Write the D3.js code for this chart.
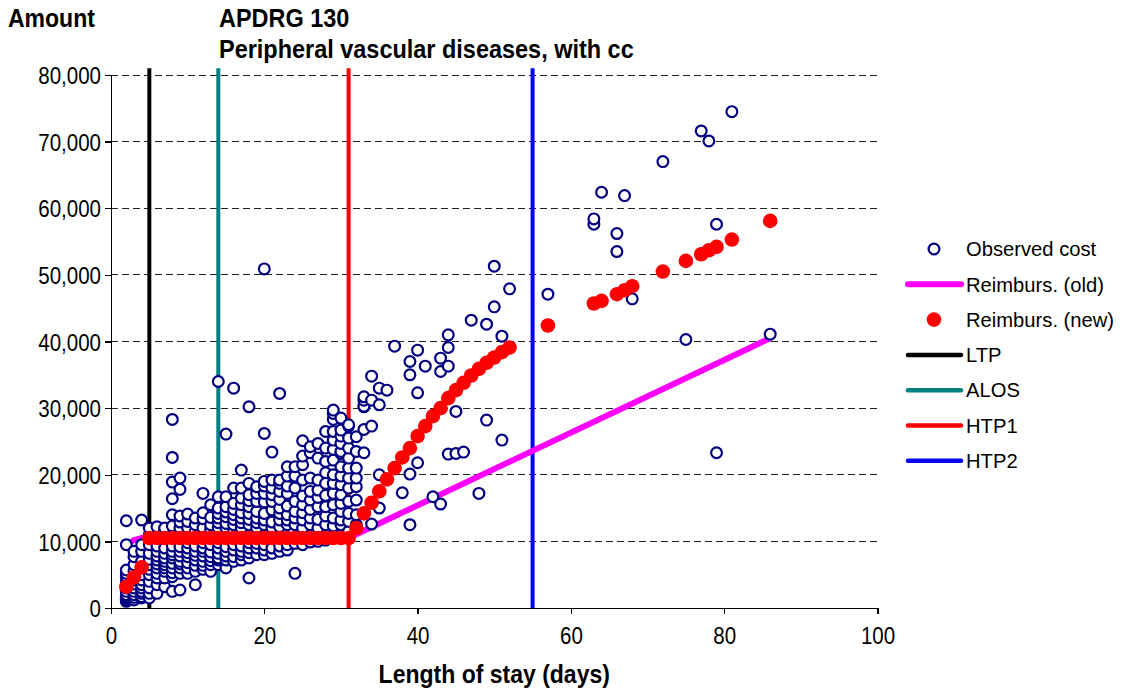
<!DOCTYPE html>
<html>
<head>
<meta charset="utf-8">
<script src="https://cdnjs.cloudflare.com/ajax/libs/d3/7.8.5/d3.min.js"></script>
<style>
  html, body { margin: 0; padding: 0; background: #fff; }
  svg { display: block; font-family: Arial, "Liberation Sans", sans-serif; }
</style>
</head>
<body>
<svg id="chart" width="1126" height="693"></svg>
<script>
// ---------- data ----------
const titleLines = ["APDRG 130", "Peripheral vascular diseases, with cc"];
const yAxisTitle = "Amount";
const xAxisTitle = "Length of stay (days)";
const xTicks = [0, 20, 40, 60, 80, 100];
const yTicks = [0, 10000, 20000, 30000, 40000, 50000, 60000, 70000, 80000];

// Observed cost: length of stay and the costs observed for that length of stay
const obsLOS = [2,3,4,5,6,7,8,9,10,11,12,13,14,15,16,17,18,19,20,21,22,23,24,25,26,27,28,29,30,31,32,33,34,35,36,37,38,39,40,41,42,43,44,45,46,47,48,49,50,51,52,57,63,64,66,67,68,72,75,77,78,79,81,86];
const obsCost = [
  [1000,1200,1500,1700,2000,2500,3000,3500,4000,4700,5200,5700,9500,13100],
  [1200,1600,2000,2500,3000,3600,4200,4800,5500,6500,7700,8500],
  [1500,1700,2200,2500,3000,3500,4200,5000,6000,7000,8500,9500,13200],
  [1500,2200,3000,4000,5000,5800,6500,7300,8200,9500,11000,12000],
  [2200,3500,4500,5200,6000,6600,7200,7800,8500,9300,12200],
  [3200,4500,5500,6000,6500,7000,7500,8200,9000,11500,12000],
  [2500,4700,5300,6000,6700,7500,8000,8500,9300,12300,14000,16400,18900,22600,28300],
  [2700,5200,6000,6600,7000,7800,8500,9200,12000,12900,13800,17800,19500],
  [5200,6000,6800,7700,8300,9000,9800,12000,13000,14100],
  [3500,5500,6400,7200,7900,8500,9300,11500,12500,13500],
  [5800,6400,7000,7800,8500,9000,9800,12000,13400,14300,17200],
  [5500,6500,7100,7700,8400,9500,11800,12500,13600,15500],
  [6500,7200,7500,8200,9000,9800,12000,12800,13500,14200,15000,16700,34000],
  [6000,7200,7800,8500,9200,12000,12700,13700,14400,15200,16700,26100],
  [7000,7700,8700,9500,11500,12500,13300,14000,14800,15700,18000,33000],
  [7200,8000,8500,9300,12000,12800,13500,14300,15500,16500,18000,20700],
  [4500,7500,8300,9000,9800,12500,13300,14200,15200,16100,17000,18700,30200],
  [8000,9000,9700,12000,12800,13500,14500,16000,17200,18200],
  [8000,8700,9500,12500,13200,14200,15900,17200,18300,19000,26200,50900],
  [8200,9000,12000,12900,14700,16000,17000,18000,19200,23400],
  [8500,9300,12200,13200,14200,15000,16300,17500,18700,19200,32200],
  [8700,9500,12500,13200,14000,15300,17200,18300,19800,21200],
  [5200,9700,12500,13500,14500,16000,18000,19800,21200],
  [9500,12000,13200,14300,15500,16800,19200,21500,22800,25100],
  [9900,12500,13500,14800,16200,17500,19500,23300,24200],
  [10000,12000,13300,15200,16600,17700,19200,22500,24700],
  [10200,12500,13800,15200,16900,18700,20300,22000,24000,26500],
  [11000,12300,13500,15500,17200,18700,20000,22200,23800,25200,26500,28300,29200,29700],
  [11000,12500,13200,14500,15700,17000,18500,19800,21200,23200,23500,24700,25800,26700,28500],
  [11500,13000,14200,16000,18000,19500,21000,22500,24000,25500,27300,27500],
  [12500,14000,16200,18200,19500,21000,23500,25700],
  [23300,26800,30200,30300,31200,31700],
  [12600,27300,31200,34800],
  [15000,20000,30500,33000],
  [32700],
  [39300],
  [17300],
  [12500,20100,35000,37000],
  [21800,32300,38700],
  [36300],
  [16700],
  [15600,35500,37500],
  [23100,36300,39100,41000],
  [23200,29500],
  [23400],
  [43200],
  [17200],
  [28200,42600],
  [45200,51300],
  [25200,40800],
  [47900],
  [47100],
  [57600,58400],
  [62400],
  [53500,56200],
  [61900],
  [46400],
  [67000],
  [40300],
  [71600],
  [70100],
  [23300,57600],
  [74500],
  [41100]
];

// Reimbursement (old)
const oldLOS = [2, 3, 4, 31, 86];
const oldAmount = [9500, 10200, 10500, 10500, 40500];

// Reimbursement (new)
const newLOS = [2,3,4,5,6,7,8,9,10,11,12,13,14,15,16,17,18,19,20,21,22,23,24,25,26,27,28,29,30,31,
                32,33,34,35,36,37,38,39,40,41,42,43,44,45,46,47,48,49,50,51,52,
                57,63,64,66,67,68,72,75,77,78,79,81,86];
const newAmount = [3200,4600,6100,10500,10500,10500,10500,10500,10500,10500,10500,10500,10500,10500,10500,10500,10500,10500,10500,10500,10500,10500,10500,10500,10500,10500,10500,10500,10500,10500,
                12000,14200,15800,17500,19300,21000,22600,24000,25800,27300,28800,30000,31500,32700,33800,34900,35900,36800,37600,38400,39100,
                42400,45700,46100,47100,47700,48300,50500,52100,53100,53700,54200,55300,58100];

// Threshold lines (length of stay)
const thresholdNames = ["LTP", "ALOS", "HTP1", "HTP2"];
const thresholdLOS = [5, 14, 31, 55];
const thresholdTop = 81000;

const legendLabels = ["Observed cost", "Reimburs. (old)", "Reimburs. (new)", "LTP", "ALOS", "HTP1", "HTP2"];

// ---------- styles ----------
const colors = { obs: "#000080", old: "#FF00FF", nw: "#FF0000",
  LTP: "#000000", ALOS: "#008080", HTP1: "#FF0000", HTP2: "#0000FF" };

// squeeze text horizontally (reference glyphs are taller than they are wide)
function condense(sel, factor) {
  sel.each(function () {
    const w = this.getComputedTextLength();
    this.setAttribute("textLength", w * factor);
    this.setAttribute("lengthAdjust", "spacingAndGlyphs");
  });
}

// ---------- drawing ----------
const svg = d3.select("#chart");
const x = d3.scaleLinear().domain([0, 100]).range([111, 877.5]);
const y = d3.scaleLinear().domain([0, 80000]).range([608, 75]);

// gridlines
svg.append("g").selectAll("line").data(yTicks.filter(v => v > 0)).join("line")
  .attr("x1", x(0)).attr("x2", x(100))
  .attr("y1", d => y(d)).attr("y2", d => y(d))
  .attr("stroke", "#222").attr("stroke-width", 1).attr("stroke-dasharray", "7,4")
  .attr("shape-rendering", "crispEdges");

// axes
const yAxis = svg.append("g").attr("transform", `translate(${x(0)},0)`)
  .call(d3.axisLeft(y).tickValues(yTicks).tickSize(6).tickPadding(4).tickFormat(d3.format(",")));
const xAxis = svg.append("g").attr("transform", `translate(0,${y(0)})`)
  .call(d3.axisBottom(x).tickValues(xTicks).tickSize(6).tickPadding(10).tickFormat(d3.format("d")));
[yAxis, xAxis].forEach(g => {
  g.selectAll("path").attr("stroke", "#000").attr("stroke-width", 1.3).attr("shape-rendering", "crispEdges");
  g.selectAll("line").attr("stroke", "#000").attr("stroke-width", 1.3).attr("shape-rendering", "crispEdges");
  g.selectAll("text").attr("font-size", 24).attr("fill", "#000").attr("font-family", "Arial, 'Liberation Sans', sans-serif");
});
yAxis.selectAll("text").attr("dy", "0.36em");
xAxis.selectAll("text").attr("dy", "0.82em");
condense(yAxis.selectAll("text"), 0.855);
condense(xAxis.selectAll("text"), 0.855);

// threshold lines
svg.append("g").selectAll("line").data(thresholdNames).join("line")
  .attr("x1", (d, i) => x(thresholdLOS[i])).attr("x2", (d, i) => x(thresholdLOS[i]))
  .attr("y1", y(0)).attr("y2", y(thresholdTop))
  .attr("stroke", d => colors[d]).attr("stroke-width", 4);

// old reimbursement line
svg.append("path")
  .datum(oldLOS.map((d, i) => [d, oldAmount[i]]))
  .attr("d", d3.line().x(d => x(d[0])).y(d => y(d[1])))
  .attr("fill", "none").attr("stroke", colors.old).attr("stroke-width", 6);

// observed cost
const obsPoints = [];
obsLOS.forEach((d, i) => obsCost[i].forEach(c => obsPoints.push([d, c])));
svg.append("g").selectAll("circle").data(obsPoints).join("circle")
  .attr("cx", d => x(d[0])).attr("cy", d => y(d[1])).attr("r", 5.4)
  .attr("fill", "#fff").attr("stroke", colors.obs).attr("stroke-width", 2.2);

// new reimbursement
svg.append("g").selectAll("circle").data(newLOS.map((d, i) => [d, newAmount[i]])).join("circle")
  .attr("cx", d => x(d[0])).attr("cy", d => y(d[1])).attr("r", 7.3)
  .attr("fill", colors.nw);

// titles
const tA = svg.append("text").attr("x", 8).attr("y", 27).text(yAxisTitle)
  .attr("font-size", 25).attr("font-weight", "bold");
condense(tA, 0.92);
const tT = svg.append("g").selectAll("text").data(titleLines).join("text")
  .attr("x", 219).attr("y", (d, i) => 27 + i * 31).text(d => d)
  .attr("font-size", 25.5).attr("font-weight", "bold");
condense(tT, 0.92);
const tX = svg.append("text").attr("x", (x(0) + x(100)) / 2).attr("y", 683).attr("text-anchor", "middle")
  .text(xAxisTitle).attr("font-size", 25).attr("font-weight", "bold");
condense(tX, 0.92);

// legend
const lg = svg.append("g");
const legendY = i => 249 + i * 35.3;
legendLabels.forEach((lab, i) => {
  const cy = legendY(i);
  if (i === 0) {
    lg.append("circle").attr("cx", 934).attr("cy", cy).attr("r", 5.4)
      .attr("fill", "#fff").attr("stroke", colors.obs).attr("stroke-width", 2.2);
  } else if (i === 1) {
    lg.append("line").attr("x1", 908).attr("x2", 961).attr("y1", cy).attr("y2", cy)
      .attr("stroke", colors.old).attr("stroke-width", 6).attr("stroke-linecap", "round");
  } else if (i === 2) {
    lg.append("circle").attr("cx", 934).attr("cy", cy).attr("r", 7.3).attr("fill", colors.nw);
  } else {
    const name = thresholdNames[i - 3];
    lg.append("line").attr("x1", 908).attr("x2", 961).attr("y1", cy).attr("y2", cy)
      .attr("stroke", colors[name]).attr("stroke-width", 4.5).attr("stroke-linecap", "round");
  }
  lg.append("text").attr("x", 966).attr("y", cy).attr("dy", "0.36em").text(lab)
    .attr("font-size", 20.2);
});
</script>
</body>
</html>
